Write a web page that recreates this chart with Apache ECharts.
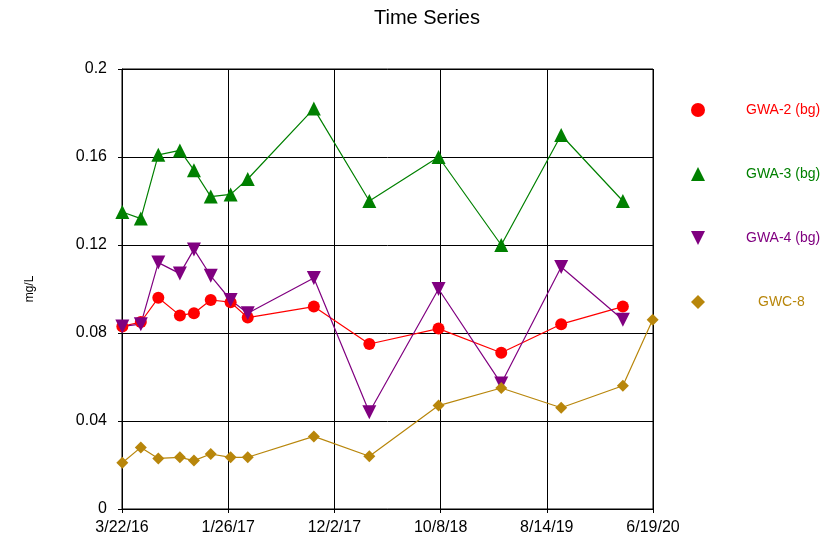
<!DOCTYPE html>
<html>
<head>
<meta charset="utf-8">
<script src="https://cdn.jsdelivr.net/npm/echarts@6/dist/echarts.min.js"></script>
<style>
  html, body { margin: 0; padding: 0; background: #fff; }
  #chart { width: 823px; height: 541px; }
</style>
</head>
<body>
<div id="chart"></div>
<script>
// Sampling dates (shared by the GWA wells); GWC-8 has one extra late sample
const sampleDates = [
  '2016-03-23', '2016-05-16', '2016-07-06', '2016-09-07', '2016-10-18',
  '2016-12-06', '2017-02-02', '2017-03-24', '2017-10-03', '2018-03-14',
  '2018-10-02', '2019-04-03', '2019-09-25', '2020-03-23'
];
const gwc8Dates = sampleDates.concat(['2020-06-18']);

// Concentrations, mg/L
const gwa2 = [0.083, 0.085, 0.096, 0.088, 0.089, 0.095, 0.094, 0.087, 0.092, 0.075, 0.082, 0.071, 0.084, 0.092];
const gwa3 = [0.135, 0.132, 0.161, 0.163, 0.154, 0.142, 0.143, 0.150, 0.182, 0.140, 0.160, 0.120, 0.170, 0.140];
const gwa4 = [0.083, 0.084, 0.112, 0.107, 0.118, 0.106, 0.095, 0.089, 0.105, 0.044, 0.100, 0.057, 0.110, 0.086];
const gwc8 = [0.021, 0.028, 0.023, 0.0235, 0.022, 0.025, 0.0235, 0.0235, 0.033, 0.024, 0.047, 0.055, 0.046, 0.056, 0.086];

// Axis range: days counted from the first tick date, ticks every 310 days
const axisStart = Date.UTC(2016, 2, 22);
const dayMs = 86400000;
const xMin = 0, xMax = 1550, xStep = 310;
const yMin = 0, yMax = 0.2, yStep = 0.04;

function dayOffset(s) {
  const p = s.split('-').map(Number);
  return Math.round((Date.UTC(p[0], p[1] - 1, p[2]) - axisStart) / dayMs);
}
function pairs(dates, vals) {
  return vals.map((v, i) => [dayOffset(dates[i]), v]);
}
function fmtDate(d) {
  const t = new Date(axisStart + d * dayMs);
  return (t.getUTCMonth() + 1) + '/' + t.getUTCDate() + '/' + String(t.getUTCFullYear()).slice(2);
}

const font = '"Liberation Sans", Arial, sans-serif';
const diamond = 'path://M0,-1L1,0L0,1L-1,0Z';

function lineSeries(name, color, data, symbol, size, rotate) {
  return {
    name: name,
    type: 'line',
    data: data,
    symbol: symbol,
    symbolSize: size,
    symbolRotate: rotate || 0,
    showAllSymbol: true,
    itemStyle: { color: color },
    lineStyle: { color: color, width: 1.2 },
    emphasis: { disabled: true },
    animation: false
  };
}

const chart = echarts.init(document.getElementById('chart'), null, { renderer: 'canvas' });
chart.setOption({
  backgroundColor: '#ffffff',
  animation: false,
  title: {
    text: 'Time Series',
    left: 422,
    textAlign: 'center',
    top: 3,
    textStyle: { fontFamily: font, fontSize: 20, fontWeight: 'normal', color: '#000' }
  },
  grid: {
    left: 122, right: 170, top: 69, bottom: 32,
    show: true, borderColor: '#000', borderWidth: 1, backgroundColor: 'transparent'
  },
  legend: {
    orient: 'vertical',
    left: 686,
    top: 98,
    itemGap: 50,
    itemWidth: 14,
    itemHeight: 14,
    selectedMode: false,
    textStyle: { fontFamily: font, fontSize: 14 },
    data: [
      { name: 'GWA-2 (bg)', icon: 'circle', textStyle: { color: '#ff0000', padding: [0, 0, 0, 36] } },
      { name: 'GWA-3 (bg)', icon: 'triangle', textStyle: { color: '#008000', padding: [0, 0, 0, 36] } },
      { name: 'GWA-4 (bg)', icon: 'path://M0,0L2,0L1,2Z', textStyle: { color: '#800080', padding: [0, 0, 0, 36] } },
      { name: 'GWC-8', icon: diamond, textStyle: { color: '#b8860b', padding: [0, 0, 0, 48] } }
    ]
  },
  xAxis: {
    type: 'value',
    min: xMin, max: xMax, interval: xStep,
    axisLine: { show: true, lineStyle: { color: '#000', width: 1 } },
    axisTick: { show: true, length: 4, lineStyle: { color: '#000' } },
    splitLine: { show: true, lineStyle: { color: '#000', width: 1 } },
    axisLabel: {
      formatter: fmtDate, margin: 11,
      fontFamily: font, fontSize: 16, color: '#000'
    }
  },
  yAxis: {
    type: 'value',
    min: yMin, max: yMax, interval: yStep,
    name: 'mg/L',
    nameLocation: 'middle',
    nameRotate: 90,
    nameGap: 86,
    nameTextStyle: { fontFamily: font, fontSize: 12, color: '#000' },
    axisLine: { show: true, lineStyle: { color: '#000', width: 1 } },
    axisTick: { show: true, length: 4, lineStyle: { color: '#000' } },
    splitLine: { show: true, lineStyle: { color: '#000', width: 1 } },
    axisLabel: {
      formatter: v => String(+v.toFixed(2)), margin: 15,
      fontFamily: font, fontSize: 16, color: '#000'
    }
  },
  series: [
    lineSeries('GWA-2 (bg)', '#ff0000', pairs(sampleDates, gwa2), 'circle', 12),
    lineSeries('GWA-3 (bg)', '#008000', pairs(sampleDates, gwa3), 'triangle', 14),
    lineSeries('GWA-4 (bg)', '#800080', pairs(sampleDates, gwa4), 'triangle', 14, 180),
    lineSeries('GWC-8', '#b8860b', pairs(gwc8Dates, gwc8), diamond, 12)
  ]
});
</script>
</body>
</html>
